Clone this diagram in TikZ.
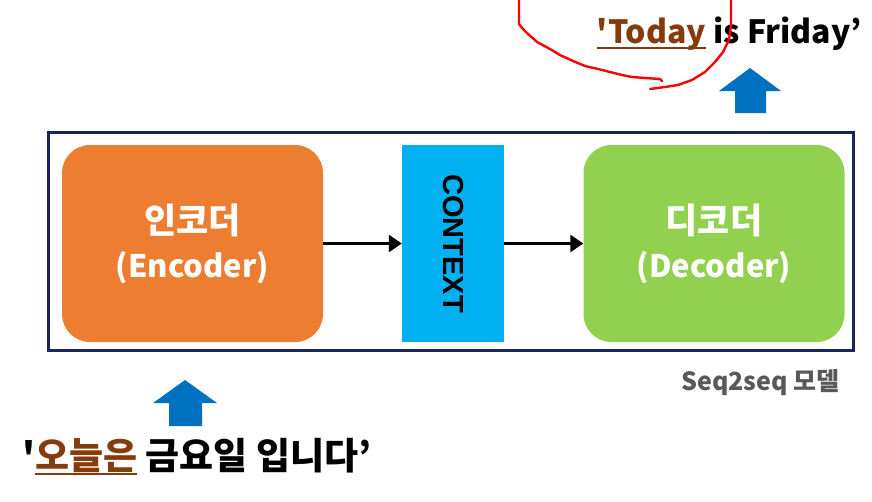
\documentclass[tikz,border=0pt]{standalone}
\usepackage{fontspec}
\setmainfont{Noto Sans CJK KR}
\newfontfamily\ctxfont{Liberation Sans}
\usetikzlibrary{arrows.meta}
\definecolor{encorange}{RGB}{237,125,49}
\definecolor{decgreen}{RGB}{146,208,80}
\definecolor{ctxblue}{RGB}{0,176,240}
\definecolor{framenavy}{RGB}{28,36,92}
\definecolor{arrblue}{RGB}{0,112,192}
\definecolor{ulbrown}{RGB}{132,60,12}
\definecolor{labgray}{RGB}{89,89,89}
\newcommand\brul[1]{\setbox0=\hbox{\textcolor{ulbrown}{#1}}\rlap{\textcolor{ulbrown}{\rule[-6pt]{\wd0}{2pt}}}\box0\relax}
\tikzset{
  block/.style={rounded corners=28pt, minimum width=261pt, minimum height=197pt, inner sep=0pt,
    text=white, align=center, font=\bfseries\fontsize{31}{48}\selectfont},
  ctxbox/.style={fill=ctxblue, minimum width=102pt, minimum height=197pt, inner sep=0pt},
  flow/.style={line width=2.6pt, -{Triangle[length=13pt,width=17pt]}},
  upblue/.style={fill=arrblue},
  txt/.style={inner sep=0pt, font=\bfseries\fontsize{32}{40}\selectfont},
  redpen/.style={red, line width=2.4pt, line join=round, line cap=round}
}
\begin{document}
\begin{tikzpicture}[x=1pt,y=-1pt]
\useasboundingbox (0,0) rectangle (872,501);
\fill[white] (0,0) rectangle (872,501);
% frame
\node[draw=framenavy, line width=3pt, minimum width=805pt, minimum height=218pt, inner sep=0pt] (frame) at (450.5,241) {};
% blocks
\node[block, fill=encorange] (enc) at (192.5,243.5) {{\fontsize{35}{48}\selectfont 인코더}\\[-4pt](Encoder)};
\node[ctxbox] (ctx) at (453,243.5) {};
\node[rotate=-90, font=\ctxfont\bfseries\fontsize{29}{30}\selectfont, inner sep=0pt] (ctxlab) at (ctx.center) {CONTEXT};
\node[block, fill=decgreen] (dec) at (714,243.5) {{\fontsize{35}{48}\selectfont 디코더}\\[-4pt](Decoder)};
\draw[flow] (enc.east) -- (ctx.west);
\draw[flow] (ctx.east) -- (dec.west);
% label
\node[anchor=base east, inner sep=0pt, text=labgray, font=\bfseries\fontsize{25}{30}\selectfont] (model) at (840,390) {Seq2seq 모델};
% blue arrows
\fill[upblue] (185,380) -- (217,403) -- (202,403) -- (202,426) -- (169,426) -- (169,403) -- (153,403) -- cycle;
\fill[upblue] (750,68) -- (781,91) -- (766,91) -- (766,113) -- (735,113) -- (735,91) -- (719,91) -- cycle;
% texts
\node[txt, anchor=base east] (output) at (862,43) {\brul{\textquotesingle Today} is Friday’};
\node[txt, anchor=base west, font=\bfseries\fontsize{37}{40}\selectfont] (input) at (22,469) {\textquotesingle\brul{오늘은} 금요일 입니다’};
% red freehand
\draw[redpen] (519,0) -- (519,24) -- (523,29) -- (527,33) -- (537,42) -- (550,49) -- (560,55) -- (573,61) -- (585,66) -- (598,69) -- (610,72) -- (622,75) -- (632,77) -- (645,78) -- (660,79) -- (662,81);
\draw[redpen] (731,0) -- (731,25) -- (729,40) -- (723,52) -- (715,62) -- (705,72) -- (692,80) -- (678,85) -- (665,87) -- (650,89);
\end{tikzpicture}
\end{document}
